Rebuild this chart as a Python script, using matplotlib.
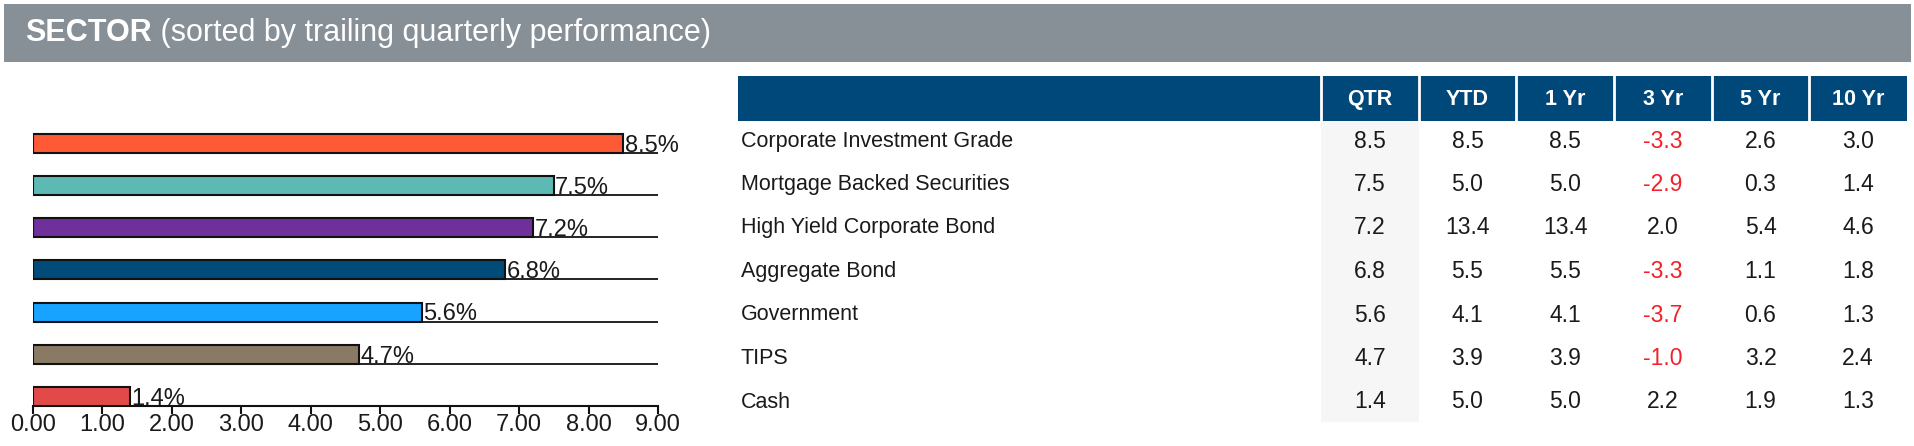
import matplotlib
matplotlib.use("Agg")
import matplotlib.pyplot as plt
from matplotlib.patches import Rectangle

plt.rcParams['font.family'] = ['Liberation Sans', 'DejaVu Sans']

# data
sectors = ["Corporate Investment Grade", "Mortgage Backed Securities", "High Yield Corporate Bond",
           "Aggregate Bond", "Government", "TIPS", "Cash"]
qtr = [8.5, 7.5, 7.2, 6.8, 5.6, 4.7, 1.4]
ytd = [8.5, 5.0, 13.4, 5.5, 4.1, 3.9, 5.0]
yr1 = [8.5, 5.0, 13.4, 5.5, 4.1, 3.9, 5.0]
yr3 = [-3.3, -2.9, 2.0, -3.3, -3.7, -1.0, 2.2]
yr5 = [2.6, 0.3, 5.4, 1.1, 0.6, 3.2, 1.9]
yr10 = [3.0, 1.4, 4.6, 1.8, 1.3, 2.4, 1.3]
columns = ["QTR", "YTD", "1 Yr", "3 Yr", "5 Yr", "10 Yr"]
bar_colors = ["#FF5A36", "#5DB9B3", "#70309B", "#004B78", "#17A3FF", "#8A7A65", "#E24A4A"]
x_ticks = [0, 1, 2, 3, 4, 5, 6, 7, 8, 9]

W, H = 1915, 446
fig = plt.figure(figsize=(W / 100, H / 100), dpi=100)

# background canvas in pixel coords
bg = fig.add_axes([0, 0, 1, 1])
bg.set_xlim(0, W)
bg.set_ylim(H, 0)
bg.axis('off')

# title band
bg.add_patch(Rectangle((4, 4), 1907, 58, color="#878F97", lw=0))
t1 = bg.text(25, 33, "SECTOR", color="white", fontsize=22, fontweight="bold", va="center", ha="left")
bg.annotate(" (sorted by trailing quarterly performance)", xy=(1, 0), xycoords=t1,
            color="white", fontsize=22, va="bottom", ha="left")

# table
tab_left, lab_right, tab_right = 738, 1321, 1907
head_top, head_bot = 76, 121
col_w = (tab_right - lab_right) / len(columns)
row_y0, row_h = 141, 43.5
navy = "#00477A"

bg.add_patch(Rectangle((tab_left, head_top), tab_right - tab_left, head_bot - head_top, color=navy, lw=0))
bg.add_patch(Rectangle((lab_right, head_bot), col_w, 301, color="#F6F6F6", lw=0))
for j in range(len(columns)):
    x0 = lab_right + j * col_w
    bg.plot([x0, x0], [head_top, head_bot], color="white", lw=2)
    bg.text(x0 + col_w / 2, (head_top + head_bot) / 2 + 1, columns[j], color="white",
            fontsize=15.5, fontweight="bold", ha="center", va="center")

table_vals = [qtr, ytd, yr1, yr3, yr5, yr10]
for i, name in enumerate(sectors):
    y = row_y0 + i * row_h
    bg.text(741, y, name, fontsize=15.5, color="#1a1a1a", ha="left", va="center")
    for j, vals in enumerate(table_vals):
        v = vals[i]
        bg.text(lab_right + j * col_w + col_w / 2, y, f"{v:.1f}", fontsize=16.5,
                color="#F2202A" if v < 0 else "#1a1a1a", ha="center", va="center")

# bar chart
ax_left, ax_right, ax_bot, ax_top = 33, 658, 406, 120
ax = fig.add_axes([ax_left / W, (H - ax_bot) / H, (ax_right - ax_left) / W, (ax_bot - ax_top) / H])
n = len(sectors)
ypos = [n - 1 - i for i in range(n)]
ax.barh(ypos, qtr, height=0.45, align="edge", color=bar_colors, edgecolor="#111111", linewidth=1.5, zorder=3)
ax.hlines(ypos, 0, 9, color="#111111", lw=1.3, zorder=2)
for y, v in zip(ypos, qtr):
    ax.text(v + 0.02, y + 0.03, f"{v:.1f}%", fontsize=17, color="#1a1a1a", ha="left", va="baseline", zorder=4)

ax.set_xlim(0, 9)
ax.set_ylim(0, (ax_bot - ax_top) / 42.2)
ax.set_xticks(x_ticks)
ax.set_xticklabels([f"{t:.2f}" for t in x_ticks], fontsize=17, color="#1a1a1a")
ax.set_yticks([])
for s in ["top", "right", "left"]:
    ax.spines[s].set_visible(False)
ax.spines["bottom"].set_color("#111111")
ax.spines["bottom"].set_linewidth(1.5)
ax.tick_params(axis="x", direction="out", length=6, width=1.5, color="#111111", pad=0)
ax.patch.set_alpha(0)

fig.savefig("out.png", dpi=100)
